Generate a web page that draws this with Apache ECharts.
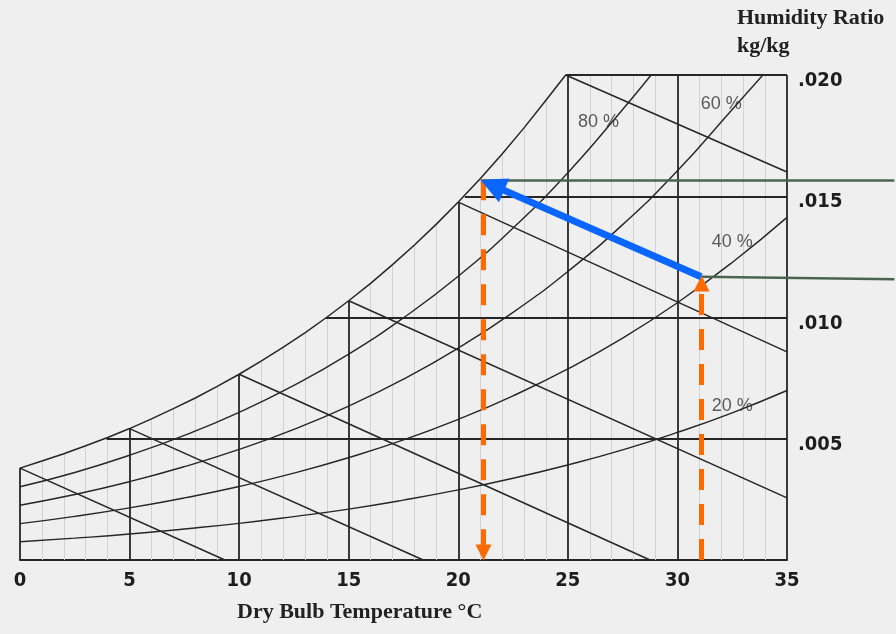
<!DOCTYPE html>
<html><head><meta charset="utf-8">
<script src="https://cdn.jsdelivr.net/npm/echarts@6/dist/echarts.min.js"></script>
<style>html,body{margin:0;padding:0;background:#efefef}#c{width:896px;height:634px}</style>
</head><body><div id="c"></div>
<script>
// ---- data ----
const yTickLabels = {0: '', 0.005: '.005', 0.01: '.010', 0.015: '.015', 0.02: '.020'};
// saturation (100 % RH) humidity ratio, per °C
const satT = [0,1,2,3,4,5,6,7,8,9,10,11,12,13,14,15,16,17,18,19,20,21,22,23,24,24.9];
const satW = [0.00379,0.00408,0.00438,0.00471,0.00505,0.00542,0.00582,0.00624,0.00668,0.00716,0.00766,0.00820,0.00877,0.00937,0.01001,0.01069,0.01141,0.01218,0.01299,0.01385,0.01476,0.01572,0.01674,0.01782,0.01896,0.0200];
const rh80 = [[0,0.00302],[2.5,0.00361],[5,0.00432],[7.5,0.00514],[10,0.00609],[12.5,0.00720],[15,0.00849],[17.5,0.00999],[20,0.01170],[22.5,0.01369],[25,0.01597],[27.5,0.01858],[28.8,0.0200]];
const rh60 = [[0,0.00226],[2.5,0.00270],[5,0.00323],[7.5,0.00385],[10,0.00456],[12.5,0.00539],[15,0.00635],[17.5,0.00746],[20,0.00874],[22.5,0.01021],[25,0.01190],[27.5,0.01383],[30,0.01605],[32.5,0.01858],[33.9,0.0200]];
const rh40 = [[0,0.00150],[2.5,0.00180],[5,0.00215],[7.5,0.00256],[10,0.00303],[12.5,0.00358],[15,0.00422],[17.5,0.00495],[20,0.00580],[22.5,0.00677],[25,0.00788],[27.5,0.00915],[30,0.01061],[32.5,0.01227],[35,0.01413]];
const rh20 = [[0,0.00075],[2.5,0.00090],[5,0.00107],[7.5,0.00128],[10,0.00151],[12.5,0.00179],[15,0.00210],[17.5,0.00247],[20,0.00289],[22.5,0.00337],[25,0.00392],[27.5,0.00454],[30,0.00526],[32.5,0.00607],[35,0.00699]];
// main vertical temperature lines [T, top W]
const majorVerticals = [[0,0.00379],[5,0.00542],[10,0.00766],[15,0.01069],[20,0.01476],[25,0.0200],[30,0.0200],[35,0.0200]];
// horizontal humidity lines [W, start T]
const majorHorizontals = [[0.005,3.95],[0.010,13.95],[0.015,20.3],[0.020,24.9]];
// wet bulb lines [[T1,W1],[T2,W2]]
const wetBulb = [
  [[0,0.00379],[9.35,0]],
  [[5,0.00542],[18.4,0]],
  [[10,0.00766],[28.75,0]],
  [[15,0.01069],[35,0.00256]],
  [[20,0.01476],[35,0.00858]],
  [[24.9,0.0200],[35,0.0160]]
];
const rhLabels = [[26.4,0.01806,'80 %'],[32.0,0.01880,'60 %'],[32.5,0.01310,'40 %'],[32.5,0.00636,'20 %']];
// annotations (arrow ends are the arrow-head centres)
const greenLines = [[[21.06,0.01566],[39.9,0.01566]],[[31.08,0.01168],[39.9,0.01158]]];
const orangeDown = [[21.15,0.01570],[21.15,0.00031]];
const orangeUp = [[31.1,0],[31.1,0.01140]];
const blueArrow = [[31.08,0.01168],[21.55,0.01546]];

// ---- build ----
const faintData = [];
for (let t = 1; t < 35; t++) {
  if (t % 5 === 0) continue;
  const top = t < satW.length - 1 ? satW[t] : 0.02;
  faintData.push({coords: [[t, 0], [t, top]]});
}
const dark = '#262626';
const satData = satT.map((t, i) => [t, satW[i]]);
function curve(d, w, sm) {
  return {type: 'line', data: d, smooth: sm, showSymbol: false, symbol: 'none',
    lineStyle: {color: dark, width: w || 1.4}, silent: true, z: 3};
}
const chart = echarts.init(document.getElementById('c'), null, {renderer: 'canvas'});
chart.setOption({
  backgroundColor: '#efefef',
  animation: false,
  grid: {left: 20, right: 109, top: 75, bottom: 74},
  xAxis: {type: 'value', min: 0, max: 35, interval: 5,
    axisLine: {show: true, lineStyle: {color: dark, width: 2}},
    axisTick: {show: false}, splitLine: {show: false},
    axisLabel: {margin: 11, color: '#1e1e1e', fontWeight: 'bold', fontSize: 20,
      fontFamily: '"Liberation Sans Narrow","DejaVu Sans Condensed","Liberation Sans",sans-serif'}},
  yAxis: {type: 'value', position: 'right', min: 0, max: 0.02, interval: 0.005,
    axisLine: {show: false}, axisTick: {show: false}, splitLine: {show: false},
    axisLabel: {margin: 11, color: '#1e1e1e', fontWeight: 'bold', fontSize: 20,
      fontFamily: '"Liberation Sans Narrow","DejaVu Sans Condensed","Liberation Sans",sans-serif',
      verticalAlign: 'top', lineHeight: 12,
      formatter: v => yTickLabels[+v.toFixed(3)] || ''}},
  graphic: [
    {type: 'text', left: 737, top: 7, style: {text: 'Humidity Ratio', font: 'bold 22px "Liberation Serif", serif', fill: '#222'}},
    {type: 'text', left: 737, top: 35, style: {text: 'kg/kg', font: 'bold 22px "Liberation Serif", serif', fill: '#222'}},
    {type: 'text', left: 237, top: 601, style: {text: 'Dry Bulb Temperature °C', font: 'bold 22px "Liberation Serif", serif', fill: '#222'}}
  ],
  series: [
    {type: 'lines', coordinateSystem: 'cartesian2d', silent: true, z: 1,
      lineStyle: {color: '#d2d2d2', width: 1, opacity: 1}, data: faintData},
    {type: 'lines', coordinateSystem: 'cartesian2d', silent: true, z: 2,
      lineStyle: {color: dark, width: 1.8, opacity: 1},
      data: majorVerticals.map(v => ({coords: [[v[0], 0], [v[0], v[1]]]}))},
    {type: 'lines', coordinateSystem: 'cartesian2d', silent: true, z: 2,
      lineStyle: {color: dark, width: 2, opacity: 1},
      data: majorHorizontals.map(h => ({coords: [[h[1], h[0]], [35, h[0]]]}))},
    {type: 'lines', coordinateSystem: 'cartesian2d', silent: true, z: 2,
      lineStyle: {color: dark, width: 1.5, opacity: 1},
      data: wetBulb.map(c => ({coords: c}))},
    curve(satData, 1.5, false), curve(rh80, 1.4, true), curve(rh60, 1.4, true), curve(rh40, 1.4, true), curve(rh20, 1.4, true),
    {type: 'scatter', symbolSize: 0, silent: true, z: 4,
      data: rhLabels.map(l => ({value: [l[0], l[1]], name: l[2]})),
      label: {show: true, position: 'inside', formatter: p => p.name, color: '#333', fontSize: 18,
        fontFamily: '"Liberation Sans", sans-serif'}},
    {type: 'lines', coordinateSystem: 'cartesian2d', silent: true, z: 5, clip: false,
      lineStyle: {color: '#4a6451', width: 2.5, opacity: 1},
      data: greenLines.map(c => ({coords: c}))},
    {type: 'lines', coordinateSystem: 'cartesian2d', silent: true, z: 6, clip: false,
      symbol: ['none', 'triangle'], symbolSize: 16,
      lineStyle: {color: '#ff6a00', width: 5, type: [21, 14], opacity: 1},
      itemStyle: {color: '#ff6a00'},
      data: [{coords: orangeDown}, {coords: orangeUp}]},
    {type: 'lines', coordinateSystem: 'cartesian2d', silent: true, z: 7, clip: false,
      symbol: ['none', 'triangle'], symbolSize: 26,
      lineStyle: {color: '#0a66ff', width: 7, opacity: 1},
      itemStyle: {color: '#0a66ff'},
      data: [{coords: blueArrow}]}
  ]
});
</script></body></html>
